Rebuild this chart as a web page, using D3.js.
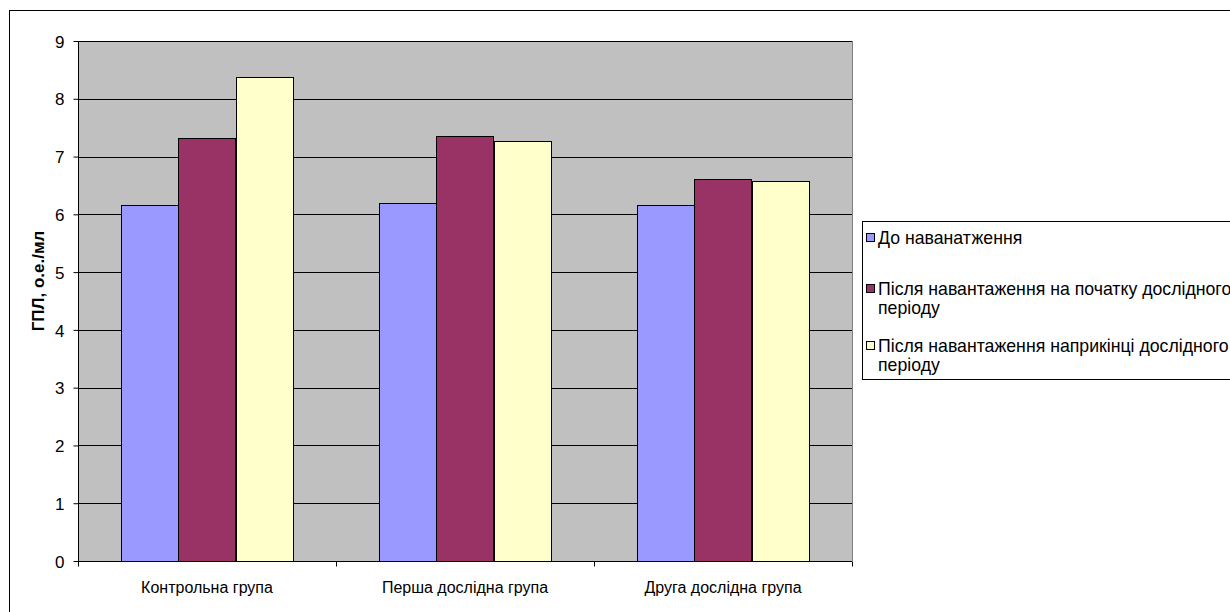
<!DOCTYPE html>
<html>
<head>
<meta charset="utf-8">
<script src="https://cdn.jsdelivr.net/npm/d3@7/dist/d3.min.js"></script>
<style>
  html, body { margin: 0; padding: 0; background: #fff; }
  svg { display: block; font-family: "Liberation Sans", Arial, sans-serif; }
</style>
</head>
<body>
<svg id="chart" width="1230" height="612"></svg>
<script>
// Groups on the x axis
const categories = ["Контрольна група", "Перша дослідна група", "Друга дослідна група"];
// Series names (legend order)
const seriesNames = [
  "До наванатження",
  "Після навантаження на початку дослідного періоду",
  "Після навантаження наприкінці дослідного періоду"
];
// Values per series, one per group
const beforeLoad = [6.17, 6.20, 6.17];
const afterLoadStart = [7.32, 7.35, 6.61];
const afterLoadEnd = [8.38, 7.27, 6.58];
const yTicks = [0, 1, 2, 3, 4, 5, 6, 7, 8, 9];
const seriesColors = ["#9999FF", "#993366", "#FFFFCC"];

const series = [beforeLoad, afterLoadStart, afterLoadEnd];
const FONT = "Liberation Sans, Arial, sans-serif";

const svg = d3.select("#chart");

// Outer chart frame
svg.append("rect")
  .attr("x", 9.5).attr("y", 10.5)
  .attr("width", 1240).attr("height", 620)
  .attr("fill", "#fff").attr("stroke", "#000").attr("stroke-width", 1);

const plot = { left: 78, right: 852, top: 41, bottom: 561 };

const x0 = d3.scaleBand()
  .domain(categories)
  .range([plot.left, plot.right])
  .padding(0);

// Gap width 150%: three bars take 3 of 4.5 bar widths in each group
const groupW = x0.bandwidth();
const barW = groupW / 4.5;
const x1 = d3.scaleBand()
  .domain(d3.range(series.length))
  .range([0.75 * barW, groupW - 0.75 * barW])
  .padding(0);

const y = d3.scaleLinear().domain([0, 9]).range([plot.bottom, plot.top]);

// Plot area background
svg.append("rect")
  .attr("x", plot.left).attr("y", plot.top)
  .attr("width", plot.right - plot.left).attr("height", plot.bottom - plot.top)
  .attr("fill", "#C0C0C0");

// Horizontal gridlines
svg.append("g")
  .selectAll("line")
  .data(yTicks.filter(d => d > 0))
  .join("line")
  .attr("x1", plot.left).attr("x2", plot.right)
  .attr("y1", d => Math.round(y(d)) + 0.5).attr("y2", d => Math.round(y(d)) + 0.5)
  .attr("stroke", "#000").attr("stroke-width", 1);

// Plot area right border
svg.append("line")
  .attr("x1", plot.right + 0.5).attr("x2", plot.right + 0.5)
  .attr("y1", plot.top).attr("y2", plot.bottom)
  .attr("stroke", "#808080");

// Bars
const groups = svg.append("g")
  .selectAll("g")
  .data(categories)
  .join("g")
  .attr("transform", c => `translate(${x0(c)},0)`);

groups.selectAll("rect")
  .data((c, ci) => series.map((s, si) => ({ si, v: s[ci] })))
  .join("rect")
  .attr("x", d => Math.round(x1(d.si)) + 0.5)
  .attr("width", Math.round(x1.bandwidth()))
  .attr("y", d => Math.round(y(d.v)) + 0.5)
  .attr("height", d => Math.round(y(0)) - Math.round(y(d.v)))
  .attr("fill", d => seriesColors[d.si])
  .attr("stroke", "#000")
  .attr("stroke-width", 1);

// Y axis
const yAxis = d3.axisLeft(y).tickValues(yTicks).tickSize(5).tickPadding(9).tickFormat(d3.format("d"));
const yg = svg.append("g").attr("transform", `translate(${plot.left + 0.5},0)`).call(yAxis);
yg.select(".domain").attr("stroke", "#000").attr("d", `M0,${plot.top}V${plot.bottom}`);
yg.selectAll(".tick line").attr("stroke", "#000");
yg.selectAll(".tick text").attr("font-size", 17).attr("fill", "#000")
  .attr("font-family", FONT).attr("dy", "0.36em");

// X axis
const xAxis = d3.axisBottom(x0).tickSize(0).tickPadding(0);
const xg = svg.append("g").attr("transform", `translate(0,${plot.bottom + 0.5})`).call(xAxis);
xg.select(".domain").attr("stroke", "#000").attr("d", `M${plot.left},0H${plot.right}`);
xg.selectAll(".tick text")
  .attr("y", 31).attr("dy", 0)
  .attr("font-size", 16).attr("fill", "#000")
  .attr("font-family", FONT);
// Category separator ticks
xg.append("g").selectAll("line")
  .data(categories.map(c => x0(c)).concat([plot.right]))
  .join("line")
  .attr("x1", d => Math.round(d) + 0.5).attr("x2", d => Math.round(d) + 0.5)
  .attr("y1", 0).attr("y2", 5)
  .attr("stroke", "#000");

// Y axis title
svg.append("text")
  .attr("transform", `translate(44,281) rotate(-90)`)
  .attr("text-anchor", "middle")
  .attr("font-size", 17).attr("font-weight", "bold")
  .attr("font-family", FONT)
  .text("ГПЛ, о.е./мл");

// Legend
const legend = svg.append("g");
legend.append("rect")
  .attr("x", 862.5).attr("y", 221.5)
  .attr("width", 400).attr("height", 158)
  .attr("fill", "#fff").attr("stroke", "#000");

const legendLines = [
  ["До наванатження"],
  ["Після навантаження на початку дослідного", "періоду"],
  ["Після навантаження наприкінці дослідного", "періоду"]
];
const legendY = [238, 289, 346];

legendLines.forEach((lines, i) => {
  legend.append("rect")
    .attr("x", 866.5).attr("y", legendY[i] - 4.5)
    .attr("width", 8).attr("height", 8)
    .attr("fill", seriesColors[i]).attr("stroke", "#000");
  lines.forEach((t, j) => {
    legend.append("text")
      .attr("x", 878).attr("y", legendY[i] + 6 + j * 19)
      .attr("font-size", 17.7)
      .attr("font-family", FONT)
      .text(t);
  });
});
</script>
</body>
</html>
